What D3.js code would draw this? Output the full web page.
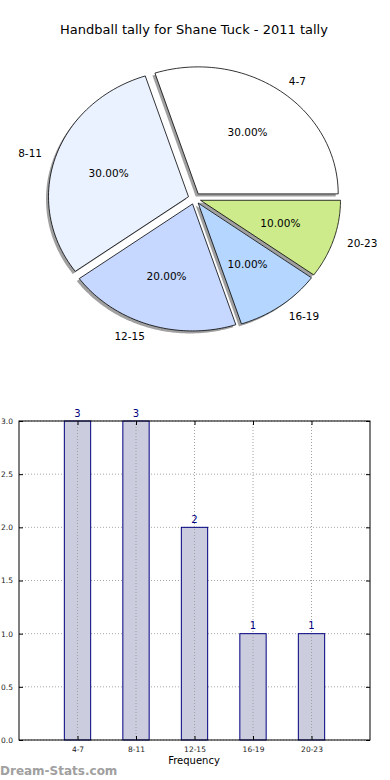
<!DOCTYPE html>
<html><head><meta charset="utf-8">
<script src="https://cdn.jsdelivr.net/npm/d3@7/dist/d3.min.js"></script>
<style>body{margin:0;background:#fff}svg{display:block}</style>
</head><body>
<svg id="c" width="390" height="780"></svg>
<script>
const title = "Handball tally for Shane Tuck - 2011 tally";
const categories = ["4-7","8-11","12-15","16-19","20-23"];
const values = [3,3,2,1,1];
const pieColors = ["#ffffff","#eaf1ff","#c6d8ff","#b4d6ff","#cdeb8b"];
const yTicks = [0,0.5,1.0,1.5,2.0,2.5,3.0];
const xLabel = "Frequency";
const watermark = "Dream-Stats.com";

const svg = d3.select("#c");
const font = "DejaVu Sans, sans-serif";

svg.append("text").attr("x",194).attr("y",34).attr("text-anchor","middle")
  .attr("font-family",font).attr("font-size",13).attr("fill","#000").text(title);

// ---- pie (elliptical, matplotlib style: start at east, counter-clockwise) ----
const cx = 194.5, cy = 198.5, rx = 140, ry = 127, explode = 0.045;
const total = d3.sum(values);
const angScale = d3.scaleLinear().domain([0,total]).range([0,2*Math.PI]);
let cum = 0;
const slices = values.map((v,i)=>{ const s = {i, v, a0: angScale(cum), a1: angScale(cum+v)}; cum += v; return s; });

function slicePath(s, ox, oy){
  const mid = (s.a0+s.a1)/2;
  const x0 = cx + ox + explode*rx*Math.cos(mid);
  const y0 = cy + oy - explode*ry*Math.sin(mid);
  const p = d3.path();
  p.moveTo(x0,y0);
  const n = 60;
  for(let k=0;k<=n;k++){
    const a = s.a0 + (s.a1-s.a0)*k/n;
    p.lineTo(x0 + rx*Math.cos(a), y0 - ry*Math.sin(a));
  }
  p.closePath();
  return p.toString();
}
const pieG = svg.append("g");
// shadows
pieG.selectAll("path.sh").data(slices).join("path").attr("class","sh")
  .attr("d",d=>slicePath(d,-2.5,2.5)).attr("fill","#808080").attr("opacity",0.75);
pieG.selectAll("path.sl").data(slices).join("path").attr("class","sl")
  .attr("d",d=>slicePath(d,0,0)).attr("fill",d=>pieColors[d.i])
  .attr("stroke","#000").attr("stroke-width",0.8);
slices.forEach(s=>{
  const mid = (s.a0+s.a1)/2, c = Math.cos(mid), sn = Math.sin(mid);
  const x0 = cx + explode*rx*c, y0 = cy - explode*ry*sn;
  pieG.append("text").attr("x", x0 + 1.1*rx*c).attr("y", y0 - 1.1*ry*sn)
    .attr("dy","0.35em").attr("text-anchor", c>0?"start":"end")
    .attr("font-family",font).attr("font-size",10.5).text(categories[s.i]);
  pieG.append("text").attr("x", x0 + 0.6*rx*c).attr("y", y0 - 0.6*ry*sn)
    .attr("dy","0.35em").attr("text-anchor","middle")
    .attr("font-family",font).attr("font-size",10.5)
    .text((s.v/total*100).toFixed(2)+"%");
});

// ---- bar chart ----
const L = 19, R = 370, T = 421, B = 740;
const x = d3.scaleLinear().domain([-1,5]).range([L,R]);
const y = d3.scaleLinear().domain([0,3]).range([B,T]);
const bw = 0.45;
const bg = svg.append("g");
// grid
bg.selectAll("line.gy").data(yTicks).join("line")
  .attr("x1",L).attr("x2",R).attr("y1",d=>y(d)).attr("y2",d=>y(d))
  .attr("stroke","#a8a8a8").attr("stroke-width",1).attr("stroke-dasharray","1,2");
bg.selectAll("rect.bar").data(values).join("rect")
  .attr("x",(d,i)=>x(i-bw/2)).attr("y",d=>y(d)).attr("width",x(bw)-x(0))
  .attr("height",d=>B-y(d)).attr("fill","#ccccdf").attr("stroke","#000080").attr("stroke-width",1);
bg.selectAll("line.gx").data(categories).join("line")
  .attr("x1",(d,i)=>x(i)).attr("x2",(d,i)=>x(i)).attr("y1",T).attr("y2",B)
  .attr("stroke","#a0a0a0").attr("stroke-width",1).attr("stroke-dasharray","1,2");
// value labels
bg.selectAll("text.val").data(values).join("text")
  .attr("x",(d,i)=>x(i)).attr("y",d=>y(d)-4.5).attr("text-anchor","middle")
  .attr("font-family",font).attr("font-size",10).attr("fill","#000080").text(d=>d);
// frame
bg.append("rect").attr("x",L).attr("y",T).attr("width",R-L).attr("height",B-T)
  .attr("fill","none").attr("stroke","#000").attr("stroke-width",1);
// y axis
const yAxis = d3.axisLeft(y).tickValues(yTicks).tickFormat(d3.format(".1f")).tickSizeInner(-4).tickSizeOuter(0).tickPadding(6);
const ya = bg.append("g").attr("transform",`translate(${L},0)`).call(yAxis);
ya.select(".domain").remove();
ya.selectAll("text").attr("font-family",font).attr("font-size",7.5).attr("fill","#222");
ya.selectAll("line").attr("stroke","#000");
const yAxisR = d3.axisRight(y).tickValues(yTicks).tickFormat("").tickSizeInner(-4).tickSizeOuter(0);
const yr = bg.append("g").attr("transform",`translate(${R},0)`).call(yAxisR);
yr.select(".domain").remove();
// x axis
const xAxis = d3.axisBottom(x).tickValues(d3.range(categories.length)).tickFormat(i=>categories[i]).tickSizeInner(-4).tickSizeOuter(0).tickPadding(7);
const xa = bg.append("g").attr("transform",`translate(0,${B})`).call(xAxis);
xa.select(".domain").remove();
xa.selectAll("text").attr("font-family",font).attr("font-size",7.5).attr("fill","#222");
xa.selectAll("line").attr("stroke","#000");
const xAxisT = d3.axisTop(x).tickValues(d3.range(categories.length)).tickFormat("").tickSizeInner(-4).tickSizeOuter(0);
const xt = bg.append("g").attr("transform",`translate(0,${T})`).call(xAxisT);
xt.select(".domain").remove();
xt.selectAll("line").attr("stroke","#000");

svg.append("text").attr("x",194).attr("y",764).attr("text-anchor","middle")
  .attr("font-family",font).attr("font-size",10).attr("fill","#000").text(xLabel);
svg.append("text").attr("x",0).attr("y",775)
  .attr("font-family",font).attr("font-size",12).attr("font-weight","bold").attr("fill","#a0a0a0").text(watermark);
</script>
</body></html>
